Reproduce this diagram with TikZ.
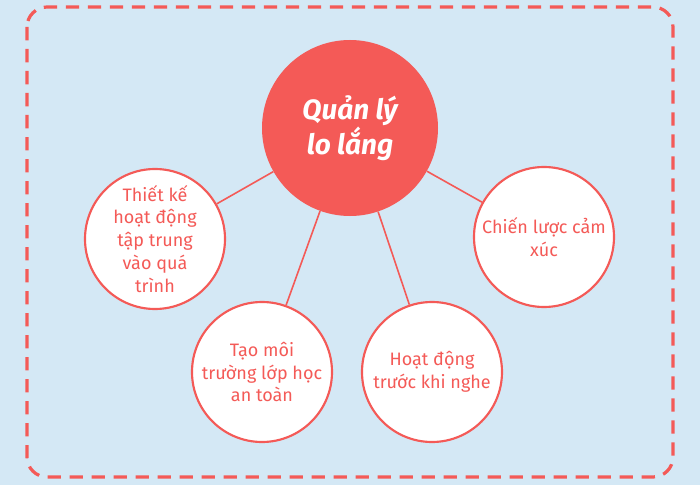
\documentclass[tikz,border=0pt]{standalone}
\usepackage{fontspec}
\setmainfont{Fira Sans}
\usetikzlibrary{positioning}
\definecolor{bgblue}{HTML}{D4E8F5}
\definecolor{mapred}{HTML}{F45A57}
\tikzstyle{centre}=[circle, fill=mapred, draw=none, minimum size=132pt, inner sep=0pt,
        text centered, text=white, font=\fontsize{21}{23}\selectfont\bfseries\itshape]
\tikzstyle{topic}=[circle, fill=white, draw=mapred, line width=1.6pt, minimum size=105pt,
        inner sep=0pt, text centered, text=mapred, font=\fontsize{13.5}{17.2}\selectfont]
\tikzstyle{spoke}=[draw=mapred, line width=1.2pt]

\begin{document}
\begin{tikzpicture}[x=0.75pt, y=-0.75pt]
        \fill[bgblue] (0,0) rectangle (700,485);
        \useasboundingbox (0,0) rectangle (700,485);
        \draw[mapred, line width=2.4pt, dash pattern=on 10pt off 6.5pt, rounded corners=15pt]
          (27,7) rectangle (673,477);
        \node (Anxiety) [centre, align=center] at (350,128) {Quản lý\\lo lắng};
        \node (Process) [topic, align=center] at (155,239) {Thiết kế\\hoạt động\\tập trung\\vào quá\\trình};
        \node (Emotion) [topic, align=center] at (544,237) {Chiến lược cảm\\xúc};
        \node (Classroom) [topic, align=center] at (262,372) {Tạo môi\\trường lớp học\\an toàn};
        \node (Prelisten) [topic, align=center] at (432,372) {Hoạt động\\trước khi nghe};
        % spokes from the centre
        \foreach \n in {Process, Emotion, Classroom, Prelisten}
          \path[spoke] (Anxiety) -- (\n);
      \end{tikzpicture}
\end{document}
